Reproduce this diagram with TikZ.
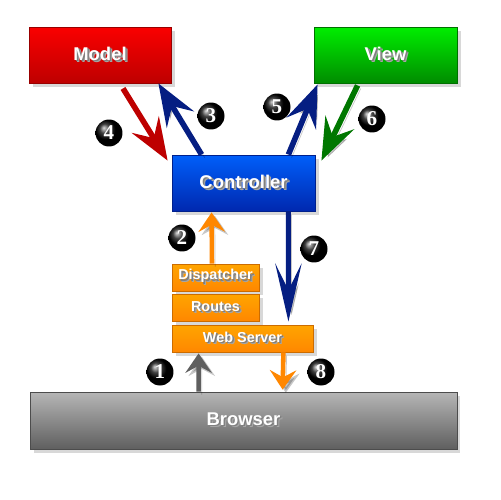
\documentclass[tikz,border=0pt]{standalone}
\usepackage{fontspec}
\setmainfont{Liberation Sans}
\newfontfamily\numfont{Liberation Serif}
\usetikzlibrary{arrows.meta,calc,shadows,positioning}
\definecolor{redtop}{RGB}{250,0,0}
\definecolor{redbot}{RGB}{190,0,0}
\definecolor{greentop}{RGB}{0,238,0}
\definecolor{greenbot}{RGB}{0,140,0}
\definecolor{bluetop}{RGB}{0,95,250}
\definecolor{bluebot}{RGB}{0,40,175}
\definecolor{orangetop}{RGB}{255,165,0}
\definecolor{orangebot}{RGB}{255,135,0}
\definecolor{graytop}{RGB}{182,182,182}
\definecolor{graybot}{RGB}{95,95,95}
\definecolor{navyarrow}{RGB}{5,30,130}
\newcommand\shtext[1]{\rlap{\kern1.4pt\raisebox{-1.4pt}{\color{black!35}#1}}%
    \rlap{\kern0.8pt\raisebox{-0.8pt}{\color{black!50}#1}}#1}

\begin{document}
\begin{tikzpicture}[x=0.02cm,y=-0.02cm,
    box/.style 2 args={top color=#1,bottom color=#2,draw=#2!80!black,line
    width=0.5pt,text=white,inner sep=0pt,
    drop shadow={opacity=0.3,shadow xshift=2pt,shadow yshift=-2pt}},
    bigfont/.style={font=\fontsize{10.5}{12}\selectfont\bfseries},
    smallfont/.style={font=\fontsize{8.2}{9}\selectfont\bfseries},
    numball/.style={circle,ball color=black,text=white,minimum size=0.54cm,
    inner sep=0pt,font=\fontsize{12}{12}\selectfont\numfont\bfseries},
    arrshadow/.style={preaction={draw=black,opacity=0.22,
    transform canvas={shift={(1.8pt,-1.8pt)}}}},
    bigarrow/.style={arrshadow,line width=3.2pt,-{Stealth[length=24pt,width=18pt,inset=9pt]}},
    longarrow/.style={arrshadow,line width=2.8pt,-{Stealth[length=33pt,width=15pt,inset=15pt]}},
    shortarrow/.style={arrshadow,line width=2.6pt,-{Stealth[length=11pt,width=15pt,inset=4pt]}}]
    \useasboundingbox[fill=white] (0,0) rectangle (500,500);
    % boxes
    \node[box={redtop}{redbot},bigfont,minimum width=2.84cm,minimum height=1.12cm]
        (model) at (100,55) {\shtext{Model}};
    \node[box={greentop}{greenbot},bigfont,minimum width=2.86cm,minimum height=1.12cm]
        (view) at (385.5,55) {\shtext{View}};
    \node[box={bluetop}{bluebot},bigfont,minimum width=2.86cm,minimum height=1.12cm]
        (ctrl) at (243.5,183) {\shtext{Controller}};
    \node[box={orangetop}{orangebot},smallfont,minimum width=1.74cm,minimum height=0.54cm]
        (disp) at (215.5,277.5) {\shtext{Dispatcher}};
    \node[box={orangetop}{orangebot},smallfont,minimum width=1.74cm,minimum height=0.54cm]
        (routes) at (215.5,307.5) {\shtext{Routes}};
    \node[box={orangetop}{orangebot},smallfont,minimum width=2.82cm,minimum height=0.54cm]
        (web) at (242.5,338.5) {\shtext{Web Server}};
    \node[box={graytop}{graybot},bigfont,minimum width=8.54cm,minimum height=1.14cm]
        (browser) at (243.5,420.5) {\shtext{Browser}};
    % arrows
    \draw[bigarrow,color=redbot] ($(model.south)+(23,5)$) -- ($(ctrl.north west)+(-4,6)$);
    \draw[bigarrow,color=navyarrow] ($(ctrl.north west)+(30,0)$) -- ($(model.south east)+(-13,0)$);
    \draw[bigarrow,color=navyarrow] ($(ctrl.north east)+(-27,0)$) -- ($(view.south west)+(4,1)$);
    \draw[bigarrow,color=greenbot!85!black] ($(view.south west)+(44,2)$) -- ($(ctrl.north east)+(6,6)$);
    \draw[shortarrow,color=orangebot] ($(disp.north)+(-3.5,0)$) -- ($(ctrl.south west)+(40,1)$);
    \draw[longarrow,color=navyarrow] ($(ctrl.south east)+(-27,0)$) -- ($(web.north east)+(-25,-3)$);
    \draw[shortarrow,color=graybot] ($(browser.north west)+(169,0)$) -- ($(web.south west)+(27,1)$);
    \draw[shortarrow,color=orangebot] ($(web.south east)+(-30,0)$) -- ($(browser.north west)+(253,-2)$);
    % step numbers
    \foreach \n/\px/\py in {1/160/372,2/182/238,3/211/116,4/109/133,
                            5/277/107,6/372/119,7/314/249,8/321/372}
        \node[numball] (num\n) at (\px,\py) {\n};
\end{tikzpicture}
\end{document}
